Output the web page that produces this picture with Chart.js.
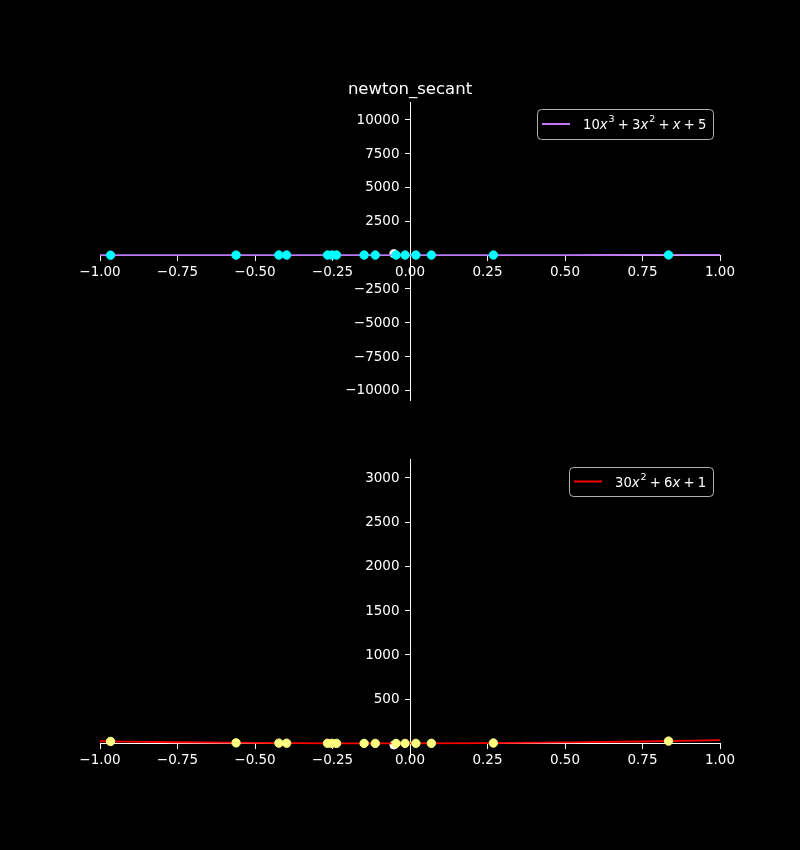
<!DOCTYPE html>
<html><head><meta charset="utf-8">
<script src="https://cdn.jsdelivr.net/npm/chart.js@4"></script>
<style>html,body{margin:0;padding:0;background:#000;width:800px;height:850px;overflow:hidden}
canvas{position:absolute;left:0;top:0}</style></head>
<body>
<div style="position:absolute;left:0;top:0;width:800px;height:850px"><canvas id="c1"></canvas></div>
<div style="position:absolute;left:0;top:0;width:800px;height:850px"><canvas id="c2"></canvas></div>
<script>
// ---- data ----
const iterX = [-0.966,-0.561,-0.423,-0.398,-0.266,-0.252,-0.237,-0.148,-0.112,-0.045,-0.016,0.019,0.069,0.269,0.834];
const iterF = [-2.18,3.62,4.36,4.45,4.76,4.78,4.80,4.89,4.91,4.96,4.98,5.02,5.09,5.68,13.72];
const iterDF = [23.2,7.08,3.83,3.36,1.53,1.39,1.26,0.77,0.70,0.79,0.91,1.13,1.56,4.78,26.9];
const curveX = [-1,-0.75,-0.5,-0.25,0,0.25,0.5,0.75,1];
const curveF = [-3,1.72,4.0,4.78,5,5.59,7.5,11.66,19];
const curveDF = [25,13.38,5.5,1.38,1,4.38,11.5,22.38,37];
const startX = [-0.052];
const startF = [110];
const startDF = [-18];
const xTicks = [-1,-0.75,-0.5,-0.25,0,0.25,0.5,0.75,1];
const yTicksTop = [-10000,-7500,-5000,-2500,2500,5000,7500,10000];
const yTicksBottom = [500,1000,1500,2000,2500,3000];
const yRangeTop = [-10706,11316];
const yRangeBottom = [-153,3214];
const title = "newton_secant";
const labelTop = "10x³ + 3x² + x + 5";
const labelBottom = "30x² + 6x + 1";
const legendPartsTop = [["10","n"],["x","i"],["3","s"],[" + 3","n"],["x","i"],["2","s"],[" + ","n"],["x","i"],[" + 5","n"]];
const legendPartsBottom = [["30","n"],["x","i"],["2","s"],[" + 6","n"],["x","i"],[" + 1","n"]];

const FONT = "'DejaVu Sans', sans-serif";
const pts = (xs, ys) => xs.map((x,i)=>({x, y: ys[i]}));
const minus = s => s.replace(/-/g, '\u2212');

function drawLegend(ctx, cfg) {
  const {box, color, parts} = cfg;
  ctx.save();
  const r = 4;
  ctx.beginPath();
  ctx.roundRect(box[0]+0.5, box[1]+0.5, box[2]-box[0], box[3]-box[1], r);
  ctx.fillStyle = 'rgba(0,0,0,0.8)';
  ctx.fill();
  ctx.strokeStyle = '#b0b0b0';
  ctx.lineWidth = 1;
  ctx.stroke();
  const cy = (box[1]+box[3])/2;
  ctx.beginPath();
  ctx.moveTo(box[0]+5, cy); ctx.lineTo(box[0]+33, cy);
  ctx.strokeStyle = color; ctx.lineWidth = 2; ctx.stroke();
  let x = box[0]+46;
  const base = cy + 5;
  ctx.fillStyle = '#ffffff';
  ctx.textBaseline = 'alphabetic';
  for (const [t, k] of parts) {
    if (k === 's') { ctx.font = `9.5px ${FONT}`; ctx.fillText(t, x+1, base-7); x += ctx.measureText(t).width+1; }
    else if (k === 'i') { ctx.font = `italic 13.2px ${FONT}`; ctx.fillText(t, x, base); x += ctx.measureText(t).width; }
    else {
      ctx.font = `13.2px ${FONT}`;
      const segs = t.split(' ');
      segs.forEach((s, j) => {
        if (s) { ctx.fillText(s, x, base); x += ctx.measureText(s).width; }
        if (j < segs.length - 1) x += 3.2;
      });
    }
  }
  ctx.restore();
}

function makeChart(id, opts) {
  const overlay = {
    id: 'overlay' + id,
    afterDraw(chart) {
      const ctx = chart.ctx;
      const xs = chart.scales.x, ys = chart.scales.y;
      // y tick labels, to the left of the centred y axis
      ctx.save();
      ctx.font = `13.5px ${FONT}`; ctx.fillStyle = '#fff';
      ctx.textAlign = 'right'; ctx.textBaseline = 'middle';
      const ax = xs.getPixelForValue(0);
      for (const v of opts.yTicks) {
        ctx.fillText(minus(String(v)), ax - 10.5, ys.getPixelForValue(v) + 0.5);
      }
      ctx.restore();
      if (opts.title) {
        ctx.save();
        ctx.font = `16.5px ${FONT}`; ctx.fillStyle = '#fff';
        ctx.textAlign = 'center'; ctx.textBaseline = 'alphabetic';
        ctx.fillText(opts.title, (chart.chartArea.left+chart.chartArea.right)/2, chart.chartArea.top - 8);
        ctx.restore();
      }
      drawLegend(ctx, opts.legend);
    }
  };
  return new Chart(document.getElementById(id), {
    type: 'scatter',
    data: { datasets: [
      { label: 'pts', data: opts.iter, backgroundColor: opts.ptColor, borderColor: opts.ptColor, pointRadius: 4.2, pointHoverRadius: 4.2, order: 0 },
      { label: opts.label, type: 'line', data: opts.curve, borderColor: opts.lineColor, borderWidth: 1.8, pointRadius: 0, tension: 0.4, cubicInterpolationMode: 'monotone', fill: false, order: 1 },
      { label: 'start', data: opts.start, backgroundColor: '#ffffff', borderColor: '#ffffff', pointRadius: 4, order: 2 }
    ]},
    plugins: [overlay],
    options: {
      responsive: true, maintainAspectRatio: false, animation: false,
      layout: { padding: opts.padding },
      plugins: { legend: { display: false }, tooltip: { enabled: false } },
      scales: {
        x: {
          type: 'linear', min: -1, max: 1, position: { y: 0 },
          afterBuildTicks: s => { s.ticks = xTicks.map(v => ({value: v})); },
          grid: { display: true, drawOnChartArea: false, drawTicks: true, tickLength: 5, color: '#ffffff', lineWidth: 1 },
          border: { display: true, color: '#ffffff', width: 1 },
          ticks: { color: '#ffffff', font: { family: FONT, size: 13.5 }, padding: 4, maxRotation: 0, autoSkip: false,
                   callback: v => minus(Number(v).toFixed(2)) }
        },
        y: {
          type: 'linear', min: opts.yRange[0], max: opts.yRange[1], position: { x: 0 },
          afterBuildTicks: s => { s.ticks = opts.yTicks.map(v => ({value: v})); },
          grid: { display: true, drawOnChartArea: false, drawTicks: true, tickLength: 5, color: '#ffffff', lineWidth: 1 },
          border: { display: true, color: '#ffffff', width: 1 },
          ticks: { display: false }
        }
      }
    }
  });
}

makeChart('c1', {
  title, label: labelTop,
  iter: pts(iterX, iterF), curve: pts(curveX, curveF), start: pts(startX, startF),
  ptColor: '#00ffff', lineColor: '#bf77f6',
  yRange: yRangeTop, yTicks: yTicksTop,
  padding: { left: 100, right: 80, top: 102, bottom: 450 },
  legend: { box: [537,109,713,139], color: '#bf77f6', parts: legendPartsTop }
});
makeChart('c2', {
  title: null, label: labelBottom,
  iter: pts(iterX, iterDF), curve: pts(curveX, curveDF), start: pts(startX, startDF),
  ptColor: '#ffff80', lineColor: '#ff0000',
  yRange: yRangeBottom, yTicks: yTicksBottom,
  padding: { left: 100, right: 80, top: 459, bottom: 93 },
  legend: { box: [569,467,713,496], color: '#ff0000', parts: legendPartsBottom }
});
</script>
</body></html>
